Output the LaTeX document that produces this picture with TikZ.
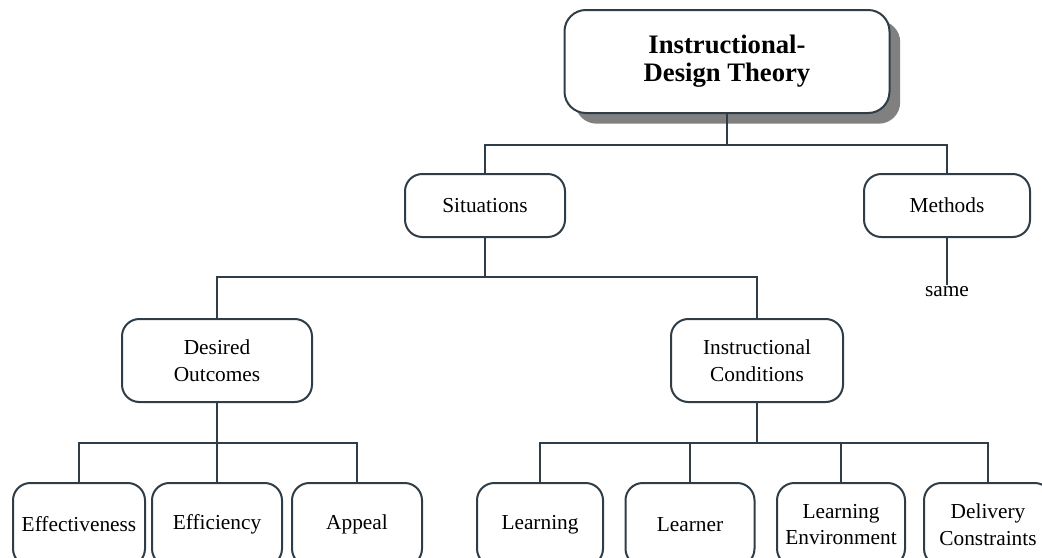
\documentclass[tikz,border=0pt]{standalone}
\usepackage{fontspec}
\setmainfont{Liberation Serif}
\usetikzlibrary{shapes, arrows, shadows, calc, positioning, fit}
\definecolor{idtline}{rgb}{0.18, 0.24, 0.28}
\definecolor{idtshadow}{rgb}{0.50, 0.50, 0.50}

\begin{document}
\begin{tikzpicture}[x=0.75pt, y=-0.75pt,
        box/.style={draw=idtline, line width=1.5pt, rounded corners=13pt, fill=white, align=center, inner sep=0pt, minimum height=62.25pt, font=\fontsize{16}{20}\selectfont},
        link/.style={draw=idtline, line width=1.5pt}]
        \useasboundingbox (0,0) rectangle (1042,557);

        \node[box, rounded corners=16pt, minimum width=243.75pt, minimum height=77.25pt, font=\fontsize{20}{21}\selectfont\bfseries,
              drop shadow={shadow xshift=8pt, shadow yshift=-8pt, fill=idtshadow, opacity=1}] (IDT) at (727, 61.5) {Instructional-\\Design Theory};

        \node[box, minimum width=120pt, minimum height=47.25pt] (Sit) at (485, 205.5) {Situations};
        \node[box, minimum width=124.5pt, minimum height=47.25pt] (Meth) at (947, 205.5) {Methods};
        \node[font=\fontsize{16}{20}\selectfont, inner sep=1pt] (Same) at (947, 292) {same};

        \node[box, minimum width=142.5pt] (Des) at (217, 360.5) {Desired\\Outcomes};
        \node[box, minimum width=129pt] (Cond) at (757, 360.5) {Instructional\\Conditions};

        \node[box, minimum width=99pt] (Eff) at (79, 524.5) {Effectiveness};
        \node[box, minimum width=97.5pt] (Effi) at (217, 524.5) {Efficiency};
        \node[box, minimum width=97.5pt] (App) at (357, 524.5) {Appeal};
        \node[box, minimum width=94.5pt] (Lrn) at (540, 524.5) {Learning};
        \node[box, minimum width=96.75pt] (Lnr) at (690, 524.5) {Learner};
        \node[box, minimum width=96pt] (Env) at (841, 524.5) {Learning\\Environment};
        \node[box, minimum width=96pt] (Del) at (988, 524.5) {Delivery\\Constraints};

        \coordinate (B1) at (727, 145);
        \coordinate (B2) at (485, 277);
        \coordinate (B3) at (217, 443);
        \coordinate (B4) at (757, 443);

        \draw [link] (IDT) -- (B1);
        \draw [link] (Sit.north) |- (B1) -| (Meth.north);
        \draw [link] (Meth) -- (Same);

        \draw [link] (Sit) -- (B2);
        \draw [link] (Des.north) |- (B2) -| (Cond.north);

        \draw [link] (Des) -- (B3);
        \draw [link] (Eff.north) |- (B3) -| (App.north);
        \draw [link] (B3) -- (Effi);

        \draw [link] (Cond) -- (B4);
        \draw [link] (Lrn.north) |- (B4) -| (Del.north);
        \draw [link] (Lnr.north |- B4) -- (Lnr);
        \draw [link] (Env.north |- B4) -- (Env);
\end{tikzpicture}
\end{document}
